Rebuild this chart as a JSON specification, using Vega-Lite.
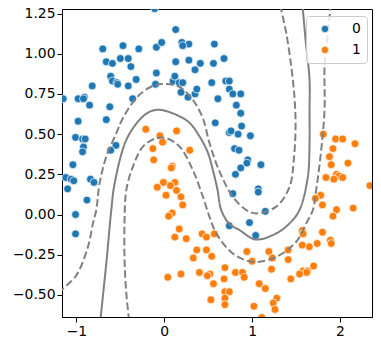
{
"$schema": "https://vega.github.io/schema/vega-lite/v6.json",
"width": 310, "height": 308,
"autosize": {"type": "none"},
"padding": {"left": 62, "top": 9, "right": 9, "bottom": 34},
"config": {"view": {"stroke": "#000", "strokeWidth": 1}, "font": "DejaVu Sans",
 "axis": {"grid": false, "domainColor": "#000", "tickColor": "#000", "labelColor": "#000", "labelFontSize": 13.9, "labelFont": "DejaVu Sans", "tickSize": 5, "title": null}},
"datasets": {
"pts": [
{"x":-0.11,"y":1.28,"label":"0"},{"x":0.13,"y":1.15,"label":"0"},{"x":-0.70,"y":1.03,"label":"0"},{"x":-0.47,"y":1.05,"label":"0"},{"x":-0.29,"y":1.03,"label":"0"},{"x":-0.09,"y":1.04,"label":"0"},{"x":-0.03,"y":1.07,"label":"0"},{"x":0.20,"y":1.07,"label":"0"},{"x":0.28,"y":1.06,"label":"0"},{"x":0.21,"y":1.05,"label":"0"},{"x":0.57,"y":1.06,"label":"0"},{"x":-0.66,"y":0.95,"label":"0"},{"x":-0.59,"y":0.94,"label":"0"},{"x":-0.50,"y":0.97,"label":"0"},{"x":-0.41,"y":0.97,"label":"0"},{"x":-0.38,"y":0.92,"label":"0"},{"x":0.13,"y":0.95,"label":"0"},{"x":0.28,"y":0.96,"label":"0"},{"x":0.41,"y":0.94,"label":"0"},{"x":0.35,"y":0.90,"label":"0"},{"x":0.56,"y":0.94,"label":"0"},{"x":-0.09,"y":0.88,"label":"0"},{"x":-0.61,"y":0.86,"label":"0"},{"x":-0.59,"y":0.83,"label":"0"},{"x":-0.54,"y":0.82,"label":"0"},{"x":-0.53,"y":0.81,"label":"0"},{"x":-0.32,"y":0.84,"label":"0"},{"x":-0.41,"y":0.80,"label":"0"},{"x":0.10,"y":0.83,"label":"0"},{"x":0.12,"y":0.86,"label":"0"},{"x":0.17,"y":0.82,"label":"0"},{"x":0.21,"y":0.82,"label":"0"},{"x":-0.10,"y":0.81,"label":"0"},{"x":-0.82,"y":0.80,"label":"0"},{"x":0.19,"y":0.76,"label":"0"},{"x":0.27,"y":0.73,"label":"0"},{"x":0.35,"y":0.75,"label":"0"},{"x":0.37,"y":0.78,"label":"0"},{"x":0.54,"y":0.82,"label":"0"},{"x":0.61,"y":0.72,"label":"0"},{"x":-1.15,"y":0.72,"label":"0"},{"x":-0.98,"y":0.72,"label":"0"},{"x":-0.91,"y":0.73,"label":"0"},{"x":-0.92,"y":0.72,"label":"0"},{"x":-0.85,"y":0.68,"label":"0"},{"x":-0.62,"y":0.67,"label":"0"},{"x":-0.36,"y":0.72,"label":"0"},{"x":-0.98,"y":0.58,"label":"0"},{"x":-0.66,"y":0.59,"label":"0"},{"x":0.68,"y":0.97,"label":"0"},{"x":0.70,"y":0.83,"label":"0"},{"x":0.74,"y":0.83,"label":"0"},{"x":0.74,"y":0.78,"label":"0"},{"x":0.78,"y":0.75,"label":"0"},{"x":0.87,"y":0.75,"label":"0"},{"x":0.82,"y":0.68,"label":"0"},{"x":0.87,"y":0.63,"label":"0"},{"x":-1.01,"y":0.48,"label":"0"},{"x":-0.93,"y":0.47,"label":"0"},{"x":-0.90,"y":0.47,"label":"0"},{"x":-0.92,"y":0.42,"label":"0"},{"x":-0.93,"y":0.39,"label":"0"},{"x":-0.55,"y":0.43,"label":"0"},{"x":-0.61,"y":0.40,"label":"0"},{"x":-1.04,"y":0.31,"label":"0"},{"x":-1.12,"y":0.23,"label":"0"},{"x":-1.06,"y":0.22,"label":"0"},{"x":-1.03,"y":0.21,"label":"0"},{"x":-0.84,"y":0.22,"label":"0"},{"x":-0.80,"y":0.20,"label":"0"},{"x":-1.10,"y":0.16,"label":"0"},{"x":-0.88,"y":0.09,"label":"0"},{"x":-1.01,"y":0.00,"label":"0"},{"x":0.58,"y":0.57,"label":"0"},{"x":-1.01,"y":-0.12,"label":"0"},{"x":0.88,"y":0.55,"label":"0"},{"x":0.74,"y":0.51,"label":"0"},{"x":0.76,"y":0.52,"label":"0"},{"x":0.84,"y":0.50,"label":"0"},{"x":0.98,"y":0.49,"label":"0"},{"x":0.80,"y":0.41,"label":"0"},{"x":0.85,"y":0.40,"label":"0"},{"x":0.95,"y":0.34,"label":"0"},{"x":0.94,"y":0.32,"label":"0"},{"x":1.10,"y":0.31,"label":"0"},{"x":0.87,"y":0.29,"label":"0"},{"x":0.81,"y":0.25,"label":"0"},{"x":1.07,"y":0.16,"label":"0"},{"x":1.07,"y":0.14,"label":"0"},{"x":0.78,"y":0.13,"label":"0"},{"x":1.15,"y":0.02,"label":"0"},{"x":0.74,"y":-0.07,"label":"0"},{"x":0.97,"y":-0.05,"label":"0"},{"x":1.04,"y":-0.13,"label":"0"},
{"x":-0.21,"y":0.53,"label":"1"},{"x":-0.05,"y":0.49,"label":"1"},{"x":0.14,"y":0.52,"label":"1"},{"x":-0.02,"y":0.45,"label":"1"},{"x":-0.13,"y":0.41,"label":"1"},{"x":0.29,"y":0.40,"label":"1"},{"x":-0.12,"y":0.34,"label":"1"},{"x":0.09,"y":0.30,"label":"1"},{"x":0.08,"y":0.29,"label":"1"},{"x":-0.01,"y":0.20,"label":"1"},{"x":-0.08,"y":0.17,"label":"1"},{"x":0.12,"y":0.20,"label":"1"},{"x":0.07,"y":0.18,"label":"1"},{"x":0.14,"y":0.15,"label":"1"},{"x":0.02,"y":0.12,"label":"1"},{"x":0.19,"y":0.11,"label":"1"},{"x":0.21,"y":0.06,"label":"1"},{"x":0.09,"y":0.01,"label":"1"},{"x":0.05,"y":-0.01,"label":"1"},
{"x":1.81,"y":0.50,"label":"1"},{"x":1.95,"y":0.47,"label":"1"},{"x":2.03,"y":0.47,"label":"1"},{"x":2.17,"y":0.44,"label":"1"},{"x":1.92,"y":0.41,"label":"1"},{"x":1.88,"y":0.36,"label":"1"},{"x":1.90,"y":0.31,"label":"1"},{"x":2.09,"y":0.32,"label":"1"},{"x":1.84,"y":0.23,"label":"1"},{"x":1.96,"y":0.25,"label":"1"},{"x":1.99,"y":0.24,"label":"1"},{"x":1.93,"y":0.22,"label":"1"},{"x":2.03,"y":0.23,"label":"1"},{"x":2.34,"y":0.18,"label":"1"},{"x":1.78,"y":0.12,"label":"1"},{"x":1.72,"y":0.10,"label":"1"},{"x":1.80,"y":0.06,"label":"1"},{"x":1.96,"y":0.03,"label":"1"},{"x":1.92,"y":-0.01,"label":"1"},{"x":2.15,"y":0.04,"label":"1"},
{"x":0.17,"y":-0.09,"label":"1"},{"x":0.12,"y":-0.14,"label":"1"},{"x":0.25,"y":-0.15,"label":"1"},{"x":0.43,"y":-0.12,"label":"1"},{"x":0.48,"y":-0.14,"label":"1"},{"x":0.57,"y":-0.12,"label":"1"},{"x":0.37,"y":-0.22,"label":"1"},{"x":0.48,"y":-0.22,"label":"1"},{"x":0.33,"y":-0.27,"label":"1"},{"x":0.54,"y":-0.26,"label":"1"},{"x":0.04,"y":-0.39,"label":"1"},{"x":0.19,"y":-0.37,"label":"1"},{"x":0.40,"y":-0.36,"label":"1"},{"x":0.52,"y":-0.37,"label":"1"},{"x":0.49,"y":-0.38,"label":"1"},{"x":0.56,"y":-0.43,"label":"1"},{"x":0.53,"y":-0.53,"label":"1"},
{"x":1.57,"y":-0.10,"label":"1"},{"x":1.58,"y":-0.12,"label":"1"},{"x":1.80,"y":-0.11,"label":"1"},{"x":1.89,"y":-0.16,"label":"1"},{"x":1.90,"y":-0.18,"label":"1"},{"x":1.74,"y":-0.18,"label":"1"},{"x":1.65,"y":-0.20,"label":"1"},{"x":1.57,"y":-0.19,"label":"1"},{"x":1.41,"y":-0.22,"label":"1"},{"x":1.19,"y":-0.23,"label":"1"},{"x":0.94,"y":-0.23,"label":"1"},{"x":1.23,"y":-0.27,"label":"1"},{"x":1.00,"y":-0.29,"label":"1"},{"x":1.41,"y":-0.28,"label":"1"},{"x":1.70,"y":-0.32,"label":"1"},{"x":1.58,"y":-0.35,"label":"1"},{"x":1.63,"y":-0.35,"label":"1"},{"x":1.62,"y":-0.36,"label":"1"},{"x":1.54,"y":-0.37,"label":"1"},{"x":1.44,"y":-0.40,"label":"1"},{"x":1.22,"y":-0.34,"label":"1"},{"x":0.81,"y":-0.36,"label":"1"},{"x":0.89,"y":-0.36,"label":"1"},{"x":0.91,"y":-0.39,"label":"1"},{"x":0.69,"y":-0.33,"label":"1"},{"x":0.68,"y":-0.40,"label":"1"},{"x":1.08,"y":-0.43,"label":"1"},{"x":1.15,"y":-0.46,"label":"1"},{"x":0.69,"y":-0.48,"label":"1"},{"x":0.74,"y":-0.48,"label":"1"},{"x":0.69,"y":-0.52,"label":"1"},{"x":0.69,"y":-0.56,"label":"1"},{"x":1.02,"y":-0.57,"label":"1"},{"x":1.28,"y":-0.52,"label":"1"},{"x":1.24,"y":-0.55,"label":"1"},{"x":1.26,"y":-0.59,"label":"1"},{"x":1.11,"y":-0.64,"label":"1"}
],
"cont": [
{"level":"a","i":0,"x":-1.2,"y":-0.49},{"level":"a","i":1,"x":-1.15,"y":-0.46},{"level":"a","i":2,"x":-1.0,"y":-0.377},{"level":"a","i":3,"x":-0.869,"y":-0.201},{"level":"a","i":4,"x":-0.812,"y":-0.055},{"level":"a","i":5,"x":-0.774,"y":0.028},{"level":"a","i":6,"x":-0.736,"y":0.194},{"level":"a","i":7,"x":-0.66,"y":0.36},{"level":"a","i":8,"x":-0.546,"y":0.506},{"level":"a","i":9,"x":-0.471,"y":0.599},{"level":"a","i":10,"x":-0.319,"y":0.724},{"level":"a","i":11,"x":-0.167,"y":0.79},{"level":"a","i":12,"x":-0.016,"y":0.811},{"level":"a","i":13,"x":0.174,"y":0.793},{"level":"a","i":14,"x":0.325,"y":0.713},{"level":"a","i":15,"x":0.439,"y":0.599},{"level":"a","i":16,"x":0.515,"y":0.444},{"level":"a","i":17,"x":0.629,"y":0.267},{"level":"a","i":18,"x":0.78,"y":0.111},{"level":"a","i":19,"x":0.933,"y":0.028},{"level":"a","i":20,"x":1.047,"y":0.007},{"level":"a","i":21,"x":1.274,"y":0.049},{"level":"a","i":22,"x":1.426,"y":0.173},{"level":"a","i":23,"x":1.474,"y":0.34},{"level":"a","i":24,"x":1.494,"y":0.547},{"level":"a","i":25,"x":1.483,"y":0.72},{"level":"a","i":26,"x":1.445,"y":0.921},{"level":"a","i":27,"x":1.388,"y":1.129},{"level":"a","i":28,"x":1.331,"y":1.274},{"level":"a","i":29,"x":1.32,"y":1.31},
{"level":"b","i":0,"x":-0.728,"y":-0.66},{"level":"b","i":1,"x":-0.66,"y":-0.304},{"level":"b","i":2,"x":-0.603,"y":0.028},{"level":"b","i":3,"x":-0.565,"y":0.194},{"level":"b","i":4,"x":-0.432,"y":0.464},{"level":"b","i":5,"x":-0.281,"y":0.589},{"level":"b","i":6,"x":-0.167,"y":0.639},{"level":"b","i":7,"x":-0.053,"y":0.651},{"level":"b","i":8,"x":0.137,"y":0.62},{"level":"b","i":9,"x":0.288,"y":0.57},{"level":"b","i":10,"x":0.402,"y":0.485},{"level":"b","i":11,"x":0.493,"y":0.389},{"level":"b","i":12,"x":0.553,"y":0.277},{"level":"b","i":13,"x":0.606,"y":0.153},{"level":"b","i":14,"x":0.648,"y":0.028},{"level":"b","i":15,"x":0.743,"y":-0.059},{"level":"b","i":16,"x":0.857,"y":-0.097},{"level":"b","i":17,"x":1.039,"y":-0.155},{"level":"b","i":18,"x":1.274,"y":-0.117},{"level":"b","i":19,"x":1.426,"y":-0.055},{"level":"b","i":20,"x":1.539,"y":0.028},{"level":"b","i":21,"x":1.634,"y":0.236},{"level":"b","i":22,"x":1.653,"y":0.444},{"level":"b","i":23,"x":1.653,"y":0.651},{"level":"b","i":24,"x":1.653,"y":0.838},{"level":"b","i":25,"x":1.608,"y":1.087},{"level":"b","i":26,"x":1.577,"y":1.274},{"level":"b","i":27,"x":1.57,"y":1.31},
{"level":"c","i":0,"x":-0.4,"y":-0.66},{"level":"c","i":1,"x":-0.432,"y":-0.491},{"level":"c","i":2,"x":-0.452,"y":-0.283},{"level":"c","i":3,"x":-0.452,"y":-0.034},{"level":"c","i":4,"x":-0.432,"y":0.153},{"level":"c","i":5,"x":-0.357,"y":0.298},{"level":"c","i":6,"x":-0.243,"y":0.422},{"level":"c","i":7,"x":-0.091,"y":0.475},{"level":"c","i":8,"x":0.023,"y":0.475},{"level":"c","i":9,"x":0.174,"y":0.422},{"level":"c","i":10,"x":0.325,"y":0.277},{"level":"c","i":11,"x":0.439,"y":0.111},{"level":"c","i":12,"x":0.515,"y":-0.014},{"level":"c","i":13,"x":0.592,"y":-0.117},{"level":"c","i":14,"x":0.78,"y":-0.242},{"level":"c","i":15,"x":1.008,"y":-0.294},{"level":"c","i":16,"x":1.274,"y":-0.263},{"level":"c","i":17,"x":1.502,"y":-0.169},{"level":"c","i":18,"x":1.615,"y":-0.055},{"level":"c","i":19,"x":1.691,"y":0.028},{"level":"c","i":20,"x":1.729,"y":0.153},{"level":"c","i":21,"x":1.786,"y":0.402},{"level":"c","i":22,"x":1.824,"y":0.651},{"level":"c","i":23,"x":1.824,"y":0.921},{"level":"c","i":24,"x":1.843,"y":1.025},{"level":"c","i":25,"x":1.889,"y":1.274},{"level":"c","i":26,"x":1.895,"y":1.31}
]
},
"layer": [
{"data": {"name": "pts"},
 "mark": {"type": "point", "filled": true, "shape": "circle", "size": 62, "opacity": 1, "stroke": "#ffffff", "strokeWidth": 0.7, "clip": true},
 "encoding": {
  "x": {"field": "x", "type": "quantitative", "scale": {"domain": [-1.164, 2.364], "nice": false, "zero": false}, "axis": {"values": [-1, 0, 1, 2], "format": "d"}},
  "y": {"field": "y", "type": "quantitative", "scale": {"domain": [-0.637, 1.278], "nice": false, "zero": false}, "axis": {"values": [-0.5, -0.25, 0, 0.25, 0.5, 0.75, 1.0, 1.25], "format": ".2f"}},
  "color": {"field": "label", "type": "nominal", "scale": {"domain": ["0", "1"], "range": ["#1f77b4", "#ff7f0e"]},
   "legend": {"title": null, "orient": "none", "legendX": 244, "legendY": 7, "padding": 6, "fillColor": "rgba(255,255,255,0.8)", "strokeColor": "#cccccc", "cornerRadius": 3, "symbolType": "circle", "symbolSize": 55, "symbolStrokeColor": "#ffffff", "symbolStrokeWidth": 0.7, "labelFontSize": 13.9, "labelFont": "DejaVu Sans", "labelColor": "#000", "labelOffset": 20, "rowPadding": 6, "symbolOffset": 6}}
 }},
{"data": {"name": "cont"},
 "mark": {"type": "line", "color": "#808080", "strokeWidth": 2, "clip": true, "interpolate": "catmull-rom"},
 "encoding": {
  "x": {"field": "x", "type": "quantitative"},
  "y": {"field": "y", "type": "quantitative"},
  "order": {"field": "i", "type": "quantitative"},
  "detail": {"field": "level", "type": "nominal"},
  "strokeDash": {"field": "level", "type": "nominal", "scale": {"domain": ["a", "b", "c"], "range": [[7.5, 3.3], [1, 0], [7.5, 3.3]]}, "legend": null}
 }}
]
}
